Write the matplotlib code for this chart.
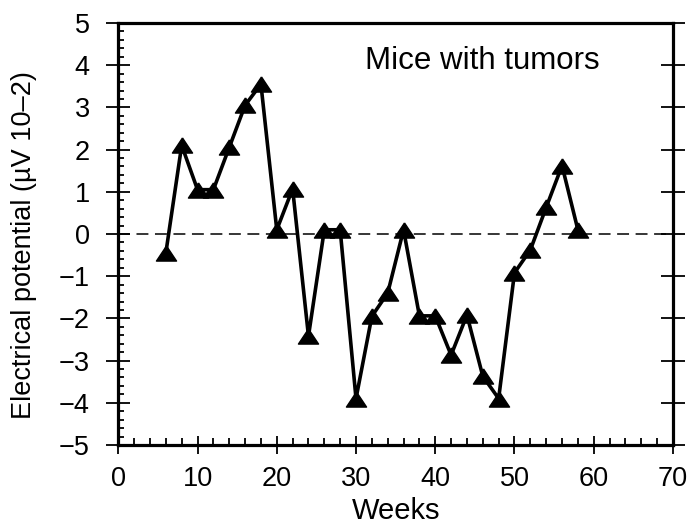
import numpy as np
import matplotlib
matplotlib.use("Agg")
import matplotlib.pyplot as plt
from matplotlib.ticker import MultipleLocator

plt.rcParams['font.family'] = ['Liberation Sans', 'DejaVu Sans']

# Values
weeks = [6, 8, 10, 12, 14, 16, 18, 20, 22, 24, 26, 28, 30, 32,
         34, 36, 38, 40, 42, 44, 46, 48, 50, 52, 54, 56, 58]
potential = [-0.45, 2.1, 1.05, 1.05, 2.05, 3.05, 3.55, 0.1, 1.07, -2.42,
             0.1, 0.1, -3.9, -1.95, -1.4, 0.1, -1.94, -1.94, -2.87, -1.92,
             -3.37, -3.9, -0.92, -0.38, 0.63, 1.62, 0.1]

fig = plt.figure(figsize=(6.91, 5.25), dpi=100)
ax = fig.add_axes([0.1712, 0.1524, 0.8027, 0.8038])

# wide triangle marker
tri = [(0, 0.85), (-1.13, -0.85), (1.13, -0.85), (0, 0.85)]

ax.axhline(0, color='black', lw=1.1, dashes=(7.8, 4.3), zorder=1)
ax.plot(weeks, potential, color='black', lw=2.6, marker=tri, ms=14.5,
        mfc='black', mec='black', mew=1, zorder=3, clip_on=False)

ax.set_xlim(0, 70)
ax.set_ylim(-5, 5)
ax.xaxis.set_major_locator(MultipleLocator(10))
ax.xaxis.set_minor_locator(MultipleLocator(2))
ax.yaxis.set_major_locator(MultipleLocator(1))
ax.yaxis.set_minor_locator(MultipleLocator(0.2))

for s in ax.spines.values():
    s.set_linewidth(2.3)

ax.tick_params(axis='y', which='major', direction='inout', length=17,
               width=1.3, left=True, right=True, labelsize=19.5, pad=12)
ax.tick_params(axis='y', which='minor', direction='in', length=4.3,
               width=1.3, left=True, right=False)
ax.tick_params(axis='x', which='major', direction='inout', length=13,
               width=1.3, top=False, labelsize=19.5, pad=8.5)
ax.tick_params(axis='x', which='minor', direction='in', length=5,
               width=1.3, top=False)

ax.set_xlabel('Weeks', fontsize=21)
ax.set_ylabel('Electrical potential (µV 10–2)', fontsize=19.5)
ax.yaxis.set_label_coords(-0.147, 0.474)

ax.text(46, 4.1, 'Mice with tumors', fontsize=22.5, ha='center', va='center')

fig.savefig('out.png', dpi=100)
